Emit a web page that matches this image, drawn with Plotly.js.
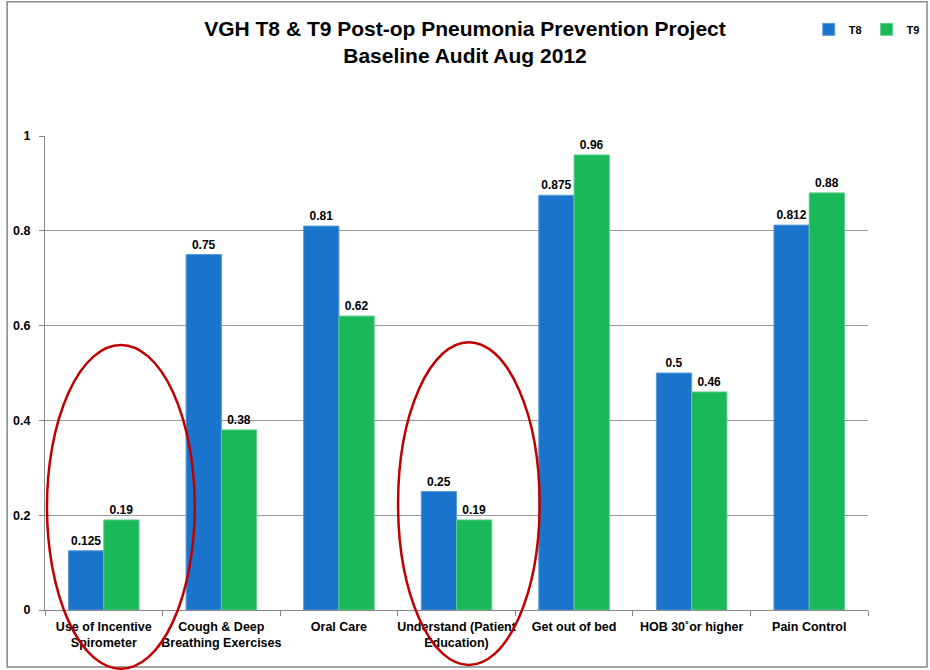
<!DOCTYPE html>
<html>
<head>
<meta charset="utf-8">
<script src="https://cdn.plot.ly/plotly-3.0.1.min.js"></script>
<style>
html,body{margin:0;padding:0;background:#fff;}
#chart{width:930px;height:670px;}
</style>
</head>
<body>
<div id="chart"></div>
<script>
const categories = [
  "Use of Incentive<br>Spirometer",
  "Cough & Deep<br>Breathing Exercises",
  "Oral Care",
  "Understand (Patient<br>Education)",
  "Get out of bed",
  "HOB 30˚or higher",
  "Pain Control"
];
const t8Values = [0.125, 0.75, 0.81, 0.25, 0.875, 0.5, 0.812];
const t9Values = [0.19, 0.38, 0.62, 0.19, 0.96, 0.46, 0.88];
const seriesNames = ["T8", "T9"];
const yTickVals = [0, 0.2, 0.4, 0.6, 0.8, 1];
const yTickText = ["0", "0.2", "0.4", "0.6", "0.8", "1"];

const font = "Liberation Sans, Arial, sans-serif";
const narrow = "Liberation Sans Narrow, Arial Narrow, sans-serif";

function barTrace(name, vals, color, edge) {
  return {
    type: "bar",
    name: "<b>" + name + "</b>",
    x: categories,
    y: vals,
    text: vals.map(v => String(v)),
    textposition: "outside",
    cliponaxis: false,
    textfont: {family: font, size: 12, color: "#000", weight: "bold"},
    marker: {color: color, line: {color: edge, width: 1}},
    hoverinfo: "x+y"
  };
}

const data = [
  barTrace(seriesNames[0], t8Values, "#1a74cc", "#5a9ad8"),
  barTrace(seriesNames[1], t9Values, "#19b95a", "#60cc8a")
];

const layout = {
  width: 930,
  height: 670,
  margin: {l: 45, r: 62, t: 136, b: 60, autoexpand: false},
  paper_bgcolor: "#fff",
  plot_bgcolor: "#fff",
  font: {family: font, color: "#000"},
  title: {
    text: "<b>VGH T8 & T9 Post-op Pneumonia Prevention Project<br>Baseline Audit Aug 2012</b>",
    font: {family: font, size: 21, color: "#000"},
    x: 0.5, xref: "container", xanchor: "center",
    y: 0.946, yref: "container", yanchor: "middle"
  },
  barmode: "group",
  bargap: 0.4,
  bargroupgap: 0,
  showlegend: true,
  legend: {
    orientation: "h",
    x: 0.928, xanchor: "left",
    y: 1.225, yanchor: "middle",
    font: {family: font, size: 11, color: "#000"},
    itemwidth: 30,
    tracegroupgap: 0,
    bgcolor: "rgba(0,0,0,0)"
  },
  xaxis: {
    type: "category",
    tickson: "boundaries",
    ticks: "outside",
    ticklen: 5,
    tickcolor: "#888",
    tickangle: 0,
    showline: true,
    linecolor: "#888",
    linewidth: 1,
    showgrid: false,
    ticklabelstandoff: 5,
    tickfont: {family: narrow, size: 12.5, color: "#000", weight: "bold"},
    automargin: false
  },
  yaxis: {
    range: [0, 1],
    tickvals: yTickVals,
    ticktext: yTickText,
    ticks: "outside",
    ticklen: 5,
    tickcolor: "#888",
    showline: true,
    linecolor: "#888",
    linewidth: 1,
    showgrid: true,
    gridcolor: "#999",
    gridwidth: 1,
    zeroline: false,
    tickfont: {family: font, size: 12.5, color: "#000", weight: "bold"},
    ticklabelstandoff: 6,
    automargin: false
  },
  shapes: [
    {type: "rect", xref: "paper", yref: "paper",
     x0: -0.046, x1: 1.0717, y0: -0.1202, y1: 1.283,
     line: {color: "#888", width: 1.5}, layer: "below"},
    {type: "circle", xref: "paper", yref: "paper",
     x0: 0.0024, x1: 0.182, y0: -0.124, y1: 0.559,
     line: {color: "#c00000", width: 2.5}},
    {type: "circle", xref: "paper", yref: "paper",
     x0: 0.429, x1: 0.601, y0: -0.116, y1: 0.565,
     line: {color: "#c00000", width: 2.5}}
  ]
};

Plotly.newPlot("chart", data, layout, {displayModeBar: false, staticPlot: true});
</script>
</body>
</html>
